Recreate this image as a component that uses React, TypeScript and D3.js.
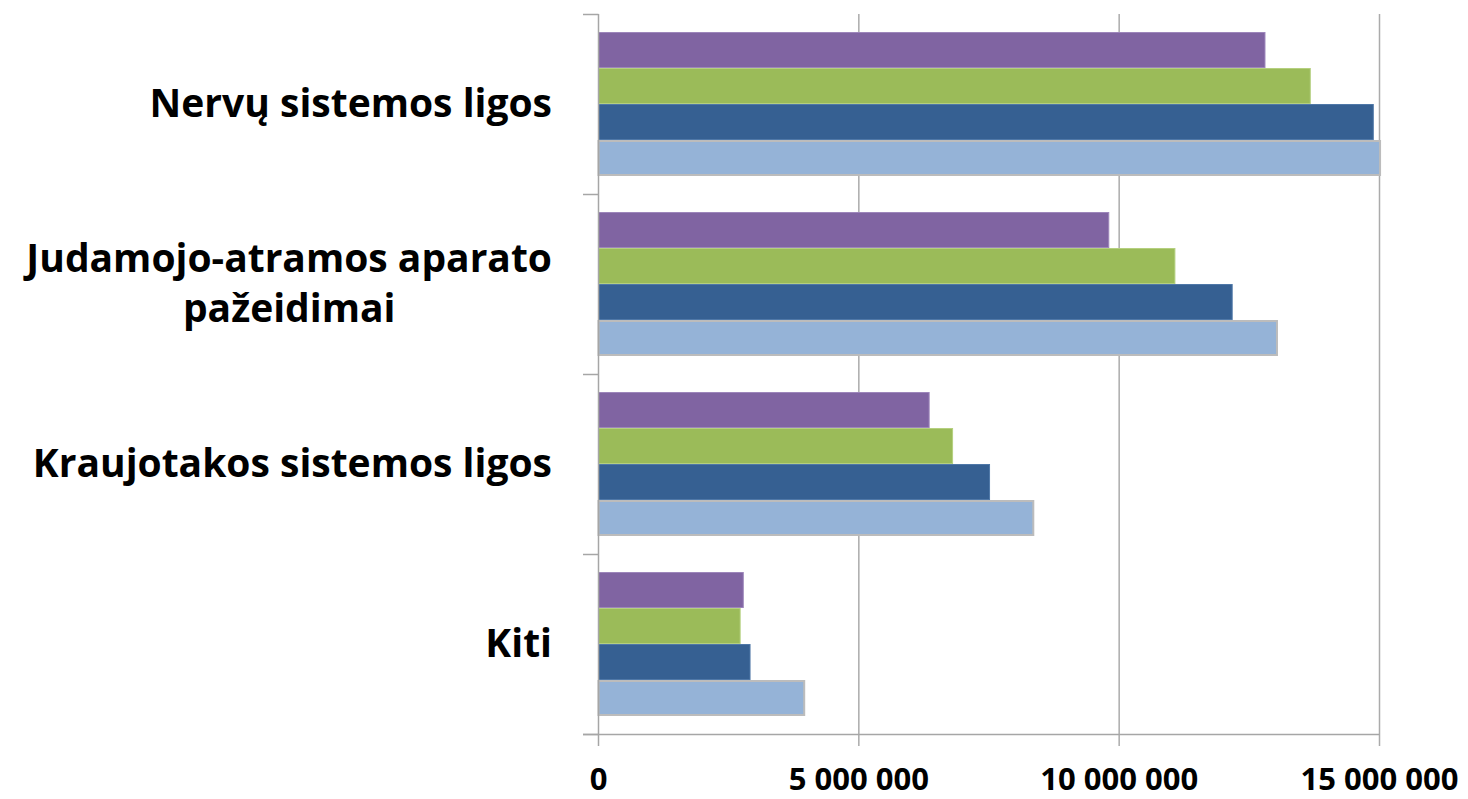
import React, { useEffect, useRef } from "react";
import * as d3 from "d3";

const categories = [
  "Nervų sistemos ligos",
  "Judamojo-atramos aparato pažeidimai",
  "Kraujotakos sistemos ligos",
  "Kiti",
];
const categoryLines = [
  ["Nervų sistemos ligos"],
  ["Judamojo-atramos aparato", "pažeidimai"],
  ["Kraujotakos sistemos ligos"],
  ["Kiti"],
];
// Series listed top-to-bottom inside each group
const seriesNames = ["s4", "s3", "s2", "s1"];
const s4Values = [12.81e6, 9.81e6, 6.36e6, 2.79e6];
const s3Values = [13.68e6, 11.08e6, 6.81e6, 2.73e6];
const s2Values = [14.89e6, 12.18e6, 7.52e6, 2.92e6];
const s1Values = [15.03e6, 13.05e6, 8.37e6, 3.97e6];
const seriesValues = [s4Values, s3Values, s2Values, s1Values];
const seriesColors = ["#8064A2", "#9BBB59", "#366092", "#95B3D7"];
const seriesStrokes = ["#9d86bb", "#b5d07f", "#4f78a8", "#bcbcbc"];
const xTickValues = [0, 5e6, 10e6, 15e6];

const W = 1468;
const H = 799;

export default function App() {
  const ref = useRef<SVGSVGElement>(null);

  useEffect(() => {
    const svg = d3.select(ref.current);
    svg.selectAll("*").remove();

    const x = d3.scaleLinear().domain([0, 15e6]).range([598.5, 1379.5]);
    const y = d3
      .scaleBand<string>()
      .domain(categories)
      .range([14, 734])
      .paddingInner(0.2)
      .paddingOuter(0.1);
    const ys = d3
      .scaleBand<string>()
      .domain(seriesNames)
      .range([0, y.bandwidth()]);

    const fmt = d3.formatLocale({
      decimal: ",",
      thousands: "\u00a0",
      grouping: [3],
      currency: ["", ""],
    }).format(",");

    // gridlines
    svg
      .append("g")
      .selectAll("line")
      .data(xTickValues.filter((d) => d > 0))
      .join("line")
      .attr("x1", (d) => x(d))
      .attr("x2", (d) => x(d))
      .attr("y1", 14)
      .attr("y2", 746)
      .attr("stroke", "#ababab")
      .attr("stroke-width", 1.5);

    // bars
    const groups = svg
      .append("g")
      .selectAll("g")
      .data(categories)
      .join("g")
      .attr("transform", (c) => `translate(0,${y(c)})`);

    groups
      .selectAll("rect")
      .data((c) =>
        seriesNames.map((s, si) => ({ s, si, v: seriesValues[si][categories.indexOf(c)] }))
      )
      .join("rect")
      .attr("x", x(0))
      .attr("y", (d) => ys(d.s)! + (d.si === 3 ? 1 : 0.5))
      .attr("width", (d) => x(d.v) - x(0) - (d.si === 3 ? 1 : 0.5))
      .attr("height", (d) => ys.bandwidth() - (d.si === 3 ? 2 : 1))
      .attr("fill", (d) => seriesColors[d.si])
      .attr("stroke", (d) => seriesStrokes[d.si])
      .attr("stroke-width", (d) => (d.si === 3 ? 2 : 1));

    // axes
    const axisColor = "#a6a6a6";
    svg
      .append("line")
      .attr("x1", x(0))
      .attr("x2", x(0))
      .attr("y1", 14)
      .attr("y2", 746)
      .attr("stroke", axisColor)
      .attr("stroke-width", 1.5);
    svg
      .append("line")
      .attr("x1", 583)
      .attr("x2", x(15e6))
      .attr("y1", 734.5)
      .attr("y2", 734.5)
      .attr("stroke", axisColor)
      .attr("stroke-width", 1.5);
    const bounds = categories.map((c) => y(c)! - (y.step() - y.bandwidth()) / 2);
    bounds.push(734);
    svg
      .append("g")
      .selectAll("line")
      .data(bounds)
      .join("line")
      .attr("x1", 583)
      .attr("x2", x(0))
      .attr("y1", (d) => d + 0.5)
      .attr("y2", (d) => d + 0.5)
      .attr("stroke", axisColor)
      .attr("stroke-width", 1.5);

    // x tick labels
    svg
      .append("g")
      .selectAll("text")
      .data(xTickValues)
      .join("text")
      .attr("x", (d) => x(d))
      .attr("y", 790)
      .attr("text-anchor", "middle")
      .attr("font-family", "'Open Sans', sans-serif")
      .attr("font-weight", 700)
      .attr("font-size", 31)
      .attr("fill", "#000")
      .text((d) => fmt(d));

    // category labels
    const labelRight = 552;
    categories.forEach((c, ci) => {
      const lines = categoryLines[ci];
      const cy = y(c)! + y.bandwidth() / 2;
      const lh = 50;
      const g = svg.append("g");
      const texts = g
        .selectAll("text")
        .data(lines)
        .join("text")
        .attr("x", 0)
        .attr("y", (d, i) => cy + 13 + (i - (lines.length - 1) / 2) * lh)
        .attr("text-anchor", "middle")
        .attr("font-family", "'Open Sans', sans-serif")
        .attr("font-weight", 700)
        .attr("font-size", 39)
        .attr("fill", "#000")
        .text((d) => d);
      let maxW = 0;
      texts.each(function () {
        maxW = Math.max(maxW, (this as SVGTextElement).getComputedTextLength());
      });
      g.attr("transform", `translate(${labelRight - maxW / 2},0)`);
    });
  }, []);

  return (
    <svg
      ref={ref}
      width={W}
      height={H}
      style={{ position: "absolute", left: 0, top: 0, background: "#fff" }}
    />
  );
}
